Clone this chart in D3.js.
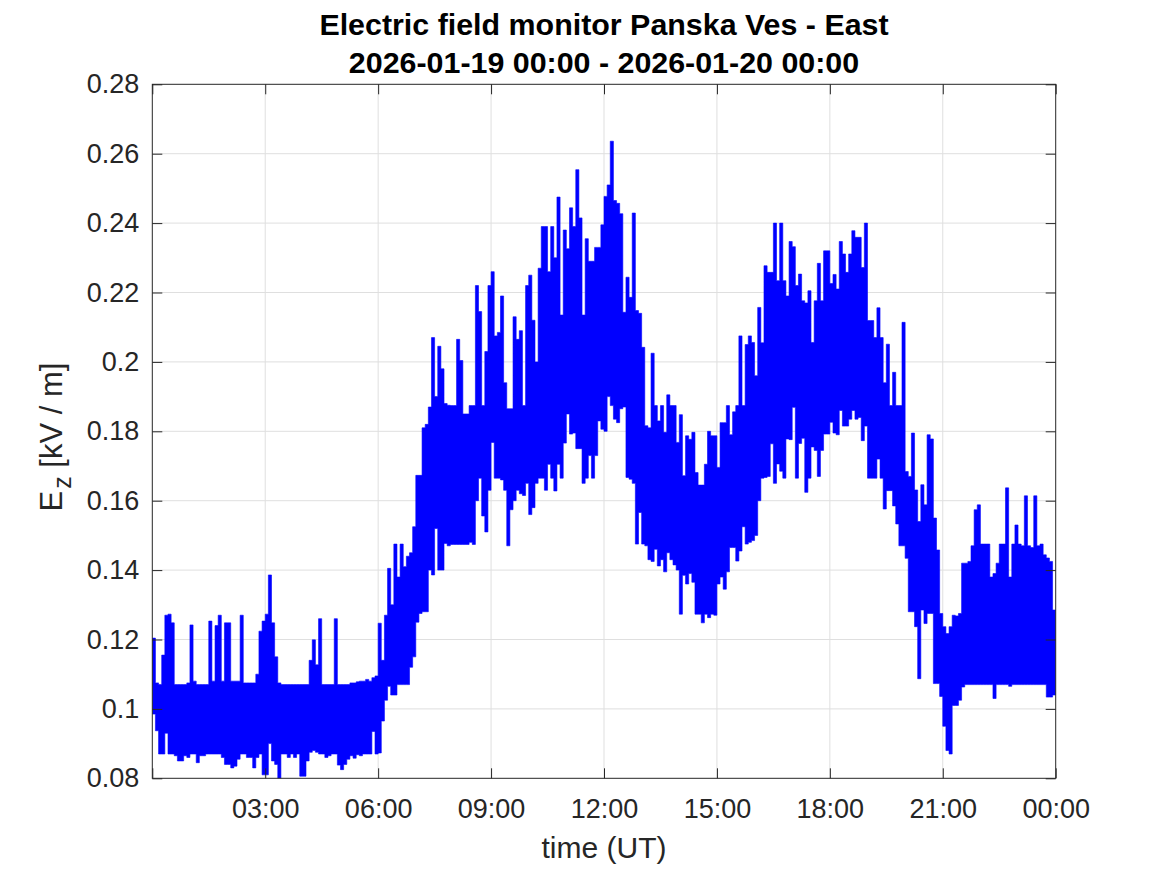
<!DOCTYPE html>
<html>
<head>
<meta charset="utf-8">
<script src="https://cdn.jsdelivr.net/npm/d3@7"></script>
<style>
  html, body { margin: 0; padding: 0; background: #fff; }
  svg { display: block; font-family: "Liberation Sans", Arial, Helvetica, sans-serif; }
</style>
</head>
<body>
<svg id="chart" width="1167" height="875"></svg>
<script>
// ---------------- data ----------------
const titleLines = ["Electric field monitor Panska Ves - East", "2026-01-19 00:00 - 2026-01-20 00:00"];
const startTime = "2026-01-19T00:00:00Z";
const endTime = "2026-01-20T00:00:00Z";
const binMinutes = 5; // each entry = max / min of E_z within a 5-minute bin
const yTicks = [0.08, 0.10, 0.12, 0.14, 0.16, 0.18, 0.20, 0.22, 0.24, 0.26, 0.28];
const yTickLabels = ["0.08", "0.1", "0.12", "0.14", "0.16", "0.18", "0.2", "0.22", "0.24", "0.26", "0.28"];
const xTickLabels = ["", "03:00", "06:00", "09:00", "12:00", "15:00", "18:00", "21:00", "00:00"];

// upper envelope per 5-min bin (kV/m), one row per hour
const hiVals = [
  0.1204, 0.1075, 0.107, 0.1155, 0.127, 0.1273, 0.1248, 0.107, 0.107, 0.107, 0.107, 0.1075,
  0.1242, 0.108, 0.107, 0.107, 0.107, 0.107, 0.1253, 0.108, 0.124, 0.127, 0.108, 0.1248,
  0.1248, 0.108, 0.108, 0.108, 0.127, 0.1075, 0.1075, 0.1075, 0.1075, 0.110, 0.1224, 0.1253,
  0.1273, 0.1386, 0.1248, 0.115, 0.1075, 0.107, 0.107, 0.107, 0.107, 0.107, 0.107, 0.107,
  0.107, 0.107, 0.114, 0.1199, 0.1127, 0.126, 0.107, 0.107, 0.107, 0.107, 0.126, 0.107,
  0.107, 0.107, 0.107, 0.1075, 0.1075, 0.1078, 0.108, 0.108, 0.1085, 0.108, 0.109, 0.1095,
  0.1247, 0.114, 0.127, 0.1405, 0.130, 0.1475, 0.138, 0.1475, 0.141, 0.144, 0.145, 0.1525,
  0.1673, 0.1673, 0.181, 0.182, 0.187, 0.207, 0.19, 0.2045, 0.198, 0.188, 0.1875, 0.1874,
  0.1874, 0.2065, 0.2004, 0.185, 0.185, 0.1874, 0.1874, 0.222, 0.2145, 0.1874, 0.203, 0.222,
  0.226, 0.2075, 0.2085, 0.219, 0.194, 0.1865, 0.1865, 0.213, 0.2065, 0.209, 0.1874, 0.222,
  0.225, 0.212, 0.2, 0.227, 0.239, 0.239, 0.226, 0.239, 0.23, 0.2475, 0.2135, 0.238,
  0.2326, 0.2444, 0.239, 0.2554, 0.2415, 0.2135, 0.2355, 0.229, 0.229, 0.233, 0.233, 0.2395,
  0.2477, 0.251, 0.2636, 0.2465, 0.2457, 0.2427, 0.2143, 0.2244, 0.2186, 0.2429, 0.2148, 0.214,
  0.2042, 0.1816, 0.181, 0.2025, 0.1874, 0.183, 0.1874, 0.1797, 0.1905, 0.1874, 0.1874, 0.1768,
  0.1848, 0.1672, 0.1787, 0.1777, 0.1797, 0.1681, 0.1645, 0.1645, 0.1705, 0.180, 0.1787, 0.1787,
  0.1696, 0.1825, 0.1825, 0.1874, 0.179, 0.1856, 0.1874, 0.2075, 0.1874, 0.205, 0.2075, 0.2056,
  0.196, 0.2157, 0.2055, 0.2277, 0.2258, 0.2258, 0.240, 0.2234, 0.240, 0.2234, 0.219, 0.2347,
  0.2332, 0.222, 0.2253, 0.2176, 0.217, 0.2205, 0.2056, 0.2176, 0.2284, 0.2176, 0.232, 0.232,
  0.2226, 0.2252, 0.221, 0.2347, 0.2311, 0.2258, 0.2311, 0.2378, 0.2359, 0.2359, 0.2272, 0.240,
  0.2119, 0.2119, 0.207, 0.2156, 0.207, 0.194, 0.2051, 0.1874, 0.197, 0.1874, 0.1874, 0.2114,
  0.1684, 0.167, 0.1795, 0.1631, 0.154, 0.1646, 0.1588, 0.179, 0.1778, 0.155, 0.1458, 0.1275,
  0.1237, 0.1217, 0.1237, 0.127, 0.1268, 0.1275, 0.142, 0.142, 0.1425, 0.147, 0.1574, 0.1588,
  0.1475, 0.1475, 0.1475, 0.138, 0.139, 0.142, 0.1475, 0.1475, 0.1637, 0.138, 0.1475, 0.153,
  0.1475, 0.147, 0.1614, 0.147, 0.1465, 0.1614, 0.147, 0.1475, 0.1444, 0.1435, 0.1425, 0.1285
];

// lower envelope per 5-min bin (kV/m), one row per hour
const loVals = [
  0.0985, 0.0937, 0.087, 0.087, 0.093, 0.087, 0.087, 0.0865, 0.085, 0.085, 0.0865, 0.086,
  0.087, 0.087, 0.0845, 0.0865, 0.0865, 0.087, 0.087, 0.087, 0.087, 0.087, 0.086, 0.084,
  0.084, 0.083, 0.0835, 0.0855, 0.087, 0.087, 0.086, 0.086, 0.083, 0.086, 0.087, 0.081,
  0.081, 0.09, 0.085, 0.084, 0.0797, 0.087, 0.087, 0.086, 0.087, 0.086, 0.087, 0.0806,
  0.0806, 0.085, 0.0875, 0.088, 0.0875, 0.087, 0.087, 0.086, 0.0865, 0.087, 0.087, 0.0838,
  0.0825, 0.084, 0.0855, 0.0865, 0.0858, 0.0868, 0.0865, 0.087, 0.087, 0.087, 0.0935, 0.087,
  0.0873, 0.0965, 0.1025, 0.1065, 0.104, 0.104, 0.107, 0.107, 0.107, 0.107, 0.112, 0.115,
  0.125, 0.1275, 0.128, 0.128, 0.140, 0.1386, 0.152, 0.140, 0.140, 0.1477, 0.147, 0.1474,
  0.1474, 0.1474, 0.1474, 0.1474, 0.1474, 0.148, 0.1474, 0.16, 0.1665, 0.1556, 0.151, 0.163,
  0.1768, 0.1665, 0.1665, 0.166, 0.163, 0.147, 0.1574, 0.16, 0.163, 0.162, 0.1615, 0.165,
  0.156, 0.158, 0.165, 0.1665, 0.1665, 0.163, 0.1705, 0.1665, 0.1628, 0.1705, 0.1665, 0.1766,
  0.185, 0.1792, 0.1795, 0.175, 0.175, 0.165, 0.1665, 0.173, 0.1665, 0.173, 0.183, 0.1806,
  0.18, 0.19, 0.1874, 0.1835, 0.1825, 0.1865, 0.187, 0.1667, 0.1662, 0.165, 0.1475, 0.1566,
  0.1475, 0.147, 0.143, 0.1425, 0.146, 0.1412, 0.143, 0.1395, 0.145, 0.143, 0.1415, 0.14,
  0.1273, 0.1385, 0.136, 0.139, 0.1365, 0.1273, 0.1273, 0.1248, 0.1273, 0.1263, 0.1273, 0.127,
  0.136, 0.138, 0.1345, 0.1395, 0.1465, 0.1465, 0.1426, 0.1455, 0.1525, 0.1475, 0.148, 0.1485,
  0.15, 0.16, 0.1665, 0.1667, 0.167, 0.1764, 0.165, 0.1706, 0.1685, 0.1665, 0.1778, 0.1776,
  0.1869, 0.1665, 0.1765, 0.178, 0.1624, 0.1665, 0.1755, 0.1745, 0.167, 0.1745, 0.1792, 0.1792,
  0.1826, 0.1795, 0.179, 0.186, 0.1815, 0.1815, 0.1835, 0.186, 0.1835, 0.184, 0.1773, 0.1815,
  0.1665, 0.1665, 0.1665, 0.172, 0.1665, 0.1576, 0.1629, 0.1629, 0.1585, 0.1533, 0.147, 0.147,
  0.1434, 0.128, 0.128, 0.1237, 0.1087, 0.1285, 0.1246, 0.1275, 0.1275, 0.1073, 0.1073, 0.1036,
  0.095, 0.088, 0.087, 0.101, 0.101, 0.1025, 0.1063, 0.107, 0.107, 0.107, 0.107, 0.107,
  0.107, 0.107, 0.107, 0.107, 0.103, 0.107, 0.107, 0.107, 0.107, 0.1065, 0.107, 0.107,
  0.107, 0.107, 0.107, 0.107, 0.107, 0.107, 0.107, 0.107, 0.107, 0.1034, 0.1034, 0.104
];

// ---------------- layout ----------------
const W = 1167, H = 875;
const plot = { left: 152.3, right: 1055.7, top: 84.3, bottom: 778.3 };
const axisColor = "#262626";
const gridColor = "#dfdfdf";
const lineColor = "#0000ff";
const tickFont = 27;
const labelFont = 30;

const svg = d3.select("#chart");

const t0 = new Date(startTime), t1 = new Date(endTime);
const x = d3.scaleUtc().domain([t0, t1]).range([plot.left, plot.right]);
const y = d3.scaleLinear().domain([0.08, 0.28]).range([plot.bottom, plot.top]);
const xTickVals = d3.utcHour.every(3).range(t0, new Date(+t1 + 1));

// grid
const grid = svg.append("g");
grid.selectAll("line.gx").data(xTickVals.slice(1, -1)).join("line")
  .attr("x1", d => x(d)).attr("x2", d => x(d))
  .attr("y1", plot.top).attr("y2", plot.bottom)
  .attr("stroke", gridColor).attr("stroke-width", 1);
grid.selectAll("line.gy").data(yTicks.slice(1, -1)).join("line")
  .attr("x1", plot.left).attr("x2", plot.right)
  .attr("y1", d => y(d)).attr("y2", d => y(d))
  .attr("stroke", gridColor).attr("stroke-width", 1);

// data series
const series = hiVals.map((h, i) => ({ t: new Date(+t0 + i * binMinutes * 60000), hi: h, lo: loVals[i] }));
series.push({ t: t1, hi: hiVals[hiVals.length - 1], lo: loVals[loVals.length - 1] });

svg.append("clipPath").attr("id", "clip").append("rect")
  .attr("x", plot.left).attr("y", plot.top)
  .attr("width", plot.right - plot.left).attr("height", plot.bottom - plot.top);

const area = d3.area()
  .x(d => x(d.t)).y0(d => y(d.lo)).y1(d => y(d.hi))
  .curve(d3.curveStepAfter);

svg.append("path").datum(series)
  .attr("clip-path", "url(#clip)")
  .attr("d", area)
  .attr("fill", lineColor)
  .attr("stroke", lineColor).attr("stroke-width", 0.6);

// axes
function styleAxis(g) {
  g.selectAll("path.domain").remove();
  g.selectAll(".tick line").attr("stroke", axisColor).attr("stroke-width", 1);
  g.selectAll(".tick text").attr("fill", axisColor)
    .style("font-size", tickFont + "px").style("font-family", "Liberation Sans, Arial, sans-serif");
}
const xAxis = d3.axisBottom(x).tickValues(xTickVals).tickSizeInner(-10).tickSizeOuter(0).tickPadding(21)
  .tickFormat((d, i) => xTickLabels[i]);
svg.append("g").attr("transform", `translate(0,${plot.bottom})`).call(xAxis).call(styleAxis);
svg.append("g").attr("transform", `translate(0,${plot.top})`)
  .call(d3.axisTop(x).tickValues(xTickVals).tickSizeInner(-10).tickSizeOuter(0).tickFormat(""))
  .call(styleAxis);
const yAxis = d3.axisLeft(y).tickValues(yTicks).tickSizeInner(-10).tickSizeOuter(0).tickPadding(13)
  .tickFormat((d, i) => yTickLabels[i]);
svg.append("g").attr("transform", `translate(${plot.left},0)`).call(yAxis).call(styleAxis);
svg.append("g").attr("transform", `translate(${plot.right},0)`)
  .call(d3.axisRight(y).tickValues(yTicks).tickSizeInner(-10).tickSizeOuter(0).tickFormat(""))
  .call(styleAxis);

// box
svg.append("rect")
  .attr("x", plot.left).attr("y", plot.top)
  .attr("width", plot.right - plot.left).attr("height", plot.bottom - plot.top)
  .attr("fill", "none").attr("stroke", axisColor).attr("stroke-width", 1);

// title
const cx = (plot.left + plot.right) / 2;
svg.append("text").attr("x", cx).attr("y", 35).attr("text-anchor", "middle")
  .attr("font-weight", "bold").attr("font-size", 30.4).attr("fill", "#000").text(titleLines[0]);
svg.append("text").attr("x", cx).attr("y", 73).attr("text-anchor", "middle")
  .attr("font-weight", "bold").attr("font-size", 30.4).attr("fill", "#000").text(titleLines[1]);

// x label
svg.append("text").attr("x", cx).attr("y", 858).attr("text-anchor", "middle")
  .attr("font-size", labelFont).attr("fill", axisColor).text("time (UT)");

// y label
const yl = svg.append("text")
  .attr("transform", `translate(62,437) rotate(-90)`)
  .attr("text-anchor", "middle").attr("font-size", 31).attr("fill", axisColor);
yl.append("tspan").text("E");
yl.append("tspan").attr("dx", 2).attr("dy", 9).attr("font-size", 25).text("z");
yl.append("tspan").attr("dy", -9).text(" [kV / m]");
</script>
</body>
</html>
